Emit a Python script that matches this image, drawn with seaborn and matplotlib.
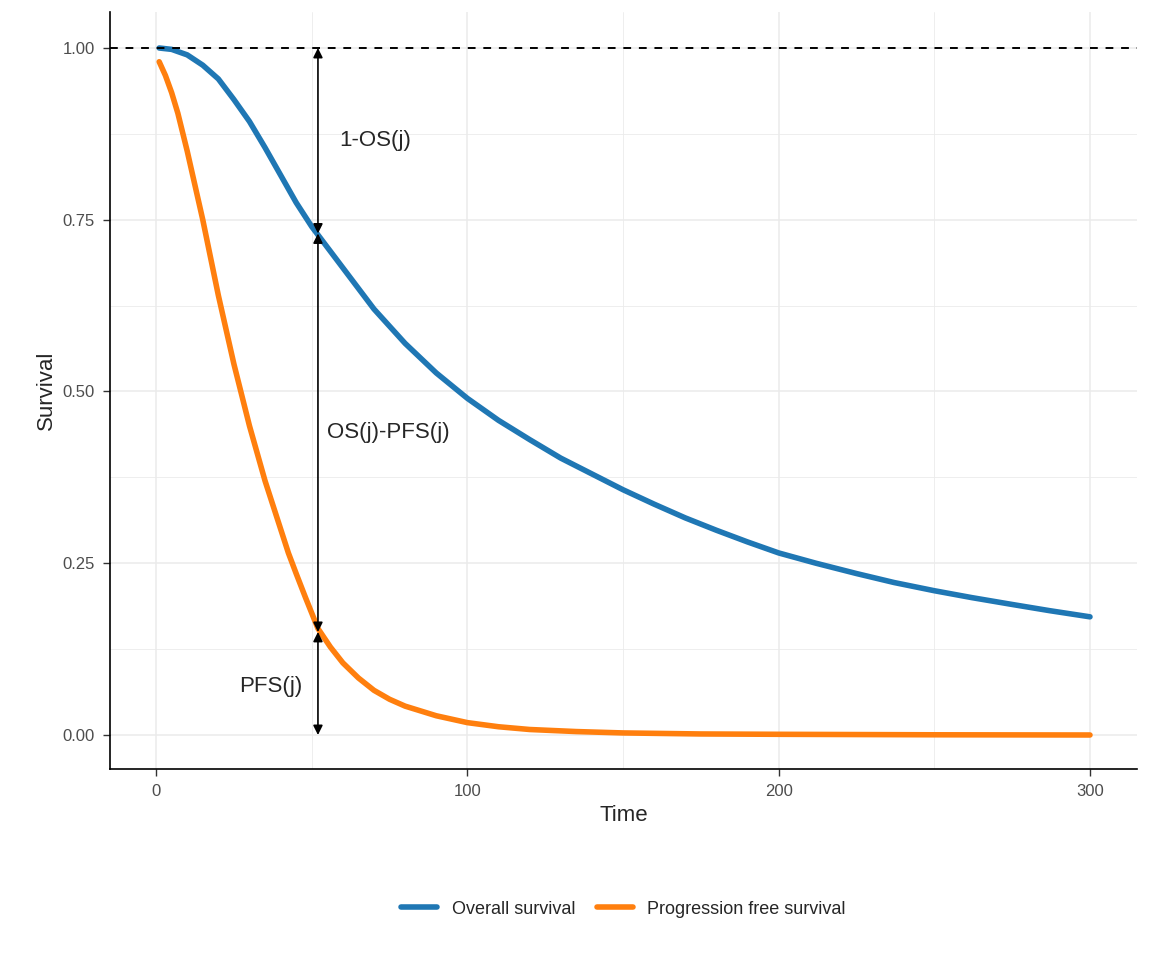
import numpy as np
import pandas as pd
import matplotlib
matplotlib.use("Agg")
import matplotlib.pyplot as plt
import seaborn as sns

# values
os_time = [1, 5, 10, 15, 20, 25, 30, 35, 40, 45, 50, 55, 60, 65, 70, 75, 80, 90, 100, 110, 120, 130,
           140, 150, 160, 170, 180, 190, 200, 212, 225, 237, 250, 262, 275, 287, 300]
os_surv = [1.0, 0.998, 0.99, 0.975, 0.955, 0.925, 0.893, 0.855, 0.815, 0.775, 0.74, 0.71, 0.68, 0.65,
           0.62, 0.595, 0.57, 0.527, 0.49, 0.458, 0.43, 0.403, 0.38, 0.357, 0.336, 0.316, 0.298, 0.281,
           0.265, 0.25, 0.235, 0.222, 0.21, 0.2, 0.19, 0.181, 0.172]
pfs_time = [1, 3, 5, 7, 10, 12.5, 15, 17.5, 20, 22.5, 25, 27.5, 30, 32.5, 35, 37.5, 40, 42.5, 45, 48,
            52, 56, 60, 65, 70, 75, 80, 90, 100, 110, 120, 135, 150, 175, 200, 250, 300]
pfs_surv = [0.98, 0.96, 0.935, 0.905, 0.85, 0.80, 0.75, 0.695, 0.64, 0.59, 0.54, 0.495, 0.45, 0.41,
            0.37, 0.335, 0.30, 0.265, 0.235, 0.2, 0.155, 0.128, 0.105, 0.083, 0.065, 0.052, 0.042,
            0.028, 0.018, 0.012, 0.008, 0.005, 0.003, 0.0015, 0.001, 0.0003, 0.0]

j_time = 52
os_j = 0.73
pfs_j = 0.15

df = pd.concat([
    pd.DataFrame({"Time": os_time, "Survival": os_surv, "curve": "Overall survival"}),
    pd.DataFrame({"Time": pfs_time, "Survival": pfs_surv, "curve": "Progression free survival"}),
])

sns.set_style("white")
plt.rcParams['font.family'] = ['Liberation Sans', 'DejaVu Sans']

fig = plt.figure(figsize=(11.52, 9.6), dpi=100)
ax = fig.add_axes([110 / 1152, 1 - 769 / 960, 1027 / 1152, 757 / 960])

ax.set_xticks([50, 150, 250], minor=True)
ax.set_yticks([0.125, 0.375, 0.625, 0.875], minor=True)
ax.grid(True, which="major", color="#ebebeb", lw=1.1)
ax.grid(True, which="minor", color="#ebebeb", lw=0.6)
ax.set_axisbelow(True)

sns.lineplot(data=df, x="Time", y="Survival", hue="curve",
             palette=["#1f77b4", "#ff7f0e"], linewidth=4, ax=ax, legend=True, sort=True)

ax.axhline(1.0, color="black", ls=(0, (4, 4)), lw=1.4)

arrow = dict(arrowstyle="<|-|>", color="black", lw=1.2, mutation_scale=14, shrinkA=0, shrinkB=0)
for lo, hi in [(os_j, 1.0), (pfs_j, os_j), (0.0, pfs_j)]:
    ax.annotate("", xy=(j_time, hi), xytext=(j_time, lo), arrowprops=arrow)

ax.text(59, 0.865, "1-OS(j)", fontsize=16, va="center")
ax.text(55, 0.44, "OS(j)-PFS(j)", fontsize=16, va="center")
ax.text(47, 0.07, "PFS(j)", fontsize=16, va="center", ha="right")

ax.set_xlim(-14.8, 315.1)
ax.set_ylim(-0.0495, 1.0524)
ax.set_xticks([0, 100, 200, 300])
ax.set_yticks([0, 0.25, 0.5, 0.75, 1.0])
ax.set_yticklabels(["0.00", "0.25", "0.50", "0.75", "1.00"])
ax.tick_params(axis="both", which="major", labelsize=12, labelcolor="#4d4d4d", length=5,
               width=1, color="#333333", pad=6, bottom=True, left=True)
ax.tick_params(axis="both", which="minor", length=0)
ax.set_xlabel("Time", fontsize=16)
ax.set_ylabel("Survival", fontsize=16)
for s in ["top", "right"]:
    ax.spines[s].set_visible(False)
for s in ["left", "bottom"]:
    ax.spines[s].set_color("black")
    ax.spines[s].set_linewidth(1.2)

ax.legend(title=None, loc="center", bbox_to_anchor=(0.5, -0.185), ncol=2,
          frameon=False, fontsize=13, handlelength=2, columnspacing=1.2)

fig.savefig("out.png", dpi=100)
